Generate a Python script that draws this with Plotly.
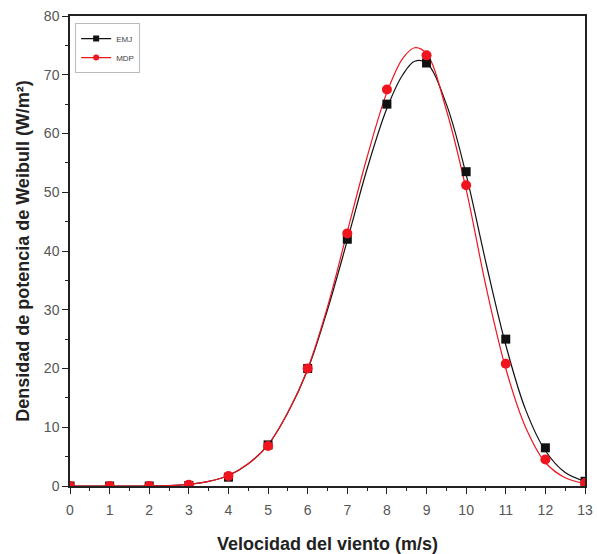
import plotly.graph_objects as go

# Measured points
wind_speed = [0, 1, 2, 3, 4, 5, 6, 7, 8, 9, 10, 11, 12, 13]
emj_points = [0.0, 0.0, 0.0, 0.1, 1.5, 7.0, 20.0, 42.0, 65.0, 72.0, 53.5, 25.0, 6.5, 0.8]
mdp_points = [0.0, 0.0, 0.0, 0.2, 1.7, 6.8, 20.0, 43.0, 67.5, 73.3, 51.2, 20.8, 4.5, 0.5]

# Fitted curves
curve_x = [0, 1, 2, 2.5, 3, 3.5, 4, 4.5, 5, 5.5, 6, 6.5, 7, 7.5, 8, 8.4, 8.7, 9, 9.5, 10, 10.5, 11, 11.5, 12, 12.5, 13]
emj_curve = [0, 0, 0, 0.05, 0.3, 0.8, 1.8, 3.8, 7.0, 12.5, 19.8, 30.0, 41.8, 54.0, 64.3, 70.0, 72.3, 72.0, 65.0, 53.0, 38.0, 24.0, 13.0, 6.0, 2.3, 0.8]
mdp_curve = [0, 0, 0, 0.05, 0.3, 0.8, 1.8, 3.8, 7.0, 12.5, 20.0, 30.5, 43.3, 56.0, 67.0, 72.8, 74.6, 73.6, 64.0, 50.5, 34.0, 20.0, 10.0, 4.0, 1.4, 0.4]

x_ticks = list(range(0, 14))
y_ticks = [0, 10, 20, 30, 40, 50, 60, 70, 80]

BLACK = "#111111"
RED = "#f0141e"
FONT = "Liberation Sans, Arial"

fig = go.Figure()
fig.add_trace(go.Scatter(x=curve_x, y=emj_curve, mode="lines", line=dict(color=BLACK, width=1.2, shape="spline"),
                         showlegend=False, hoverinfo="skip"))
fig.add_trace(go.Scatter(x=curve_x, y=mdp_curve, mode="lines", line=dict(color=RED, width=1.2, shape="spline"),
                         showlegend=False, hoverinfo="skip"))
fig.add_trace(go.Scatter(x=wind_speed, y=emj_points, mode="markers",
                         marker=dict(symbol="square", size=9, color=BLACK), showlegend=False))
fig.add_trace(go.Scatter(x=wind_speed, y=mdp_points, mode="markers",
                         marker=dict(symbol="circle", size=10, color=RED), showlegend=False))
# legend entries
fig.add_trace(go.Scatter(x=[None], y=[None], mode="lines+markers", name="EMJ",
                         line=dict(color=BLACK, width=1.2), marker=dict(symbol="square", size=6, color=BLACK)))
fig.add_trace(go.Scatter(x=[None], y=[None], mode="lines+markers", name="MDP",
                         line=dict(color=RED, width=1.2), marker=dict(symbol="circle", size=6, color=RED)))

axis_common = dict(showline=True, linecolor="#222", linewidth=1.5, mirror=True, ticks="outside",
                   ticklen=6, tickwidth=1.2, tickcolor="#222", showgrid=False, zeroline=False,
                   automargin=False,
                   tickfont=dict(family=FONT, size=14, color="#555"))

fig.update_xaxes(range=[0, 13], tickvals=x_ticks, **axis_common, ticklabelstandoff=4,
                 minor=dict(ticks="outside", ticklen=3, tickcolor="#222", dtick=0.5, tick0=0),
                 title=dict(text="<b>Velocidad del viento (m/s)</b>", standoff=24,
                            font=dict(family=FONT, size=18, color="#222")))
fig.update_yaxes(range=[0, 80], tickvals=y_ticks, **axis_common,
                 minor=dict(ticks="outside", ticklen=3, tickcolor="#222", dtick=5, tick0=0),
                 title=dict(text="<b>Densidad de potencia de Weibull (W/m²)</b>", standoff=10,
                            font=dict(family=FONT, size=18, color="#222")))

fig.update_layout(
    width=597, height=554,
    margin=dict(l=70, r=12, t=16, b=68),
    plot_bgcolor="white", paper_bgcolor="white",
    legend=dict(x=0.01, y=0.985, xanchor="left", yanchor="top", bgcolor="white",
                bordercolor="#bbb", borderwidth=1, font=dict(family=FONT, size=8, color="#444"),
                tracegroupgap=0, itemwidth=30),
)

fig.write_html("out.html")
